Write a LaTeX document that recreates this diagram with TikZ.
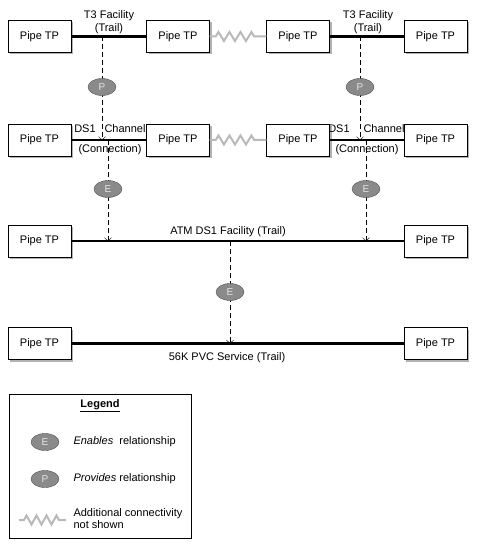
\documentclass[tikz,border=0pt]{standalone}
\usepackage{fontspec}
\setmainfont{Liberation Sans}
\usetikzlibrary{shapes.geometric,shadows,arrows.meta,decorations.pathmorphing}

\definecolor{tagfill}{RGB}{138,138,138}
\definecolor{tagline}{RGB}{80,80,80}
\definecolor{wave}{RGB}{185,185,185}

\tikzset{
 every node/.style={font=\fontsize{11}{12.5}\selectfont},
 pipe/.style={draw, fill=white, minimum width=63pt, minimum height=32pt, inner sep=0pt,
   drop shadow={shadow xshift=2pt, shadow yshift=-2pt, fill=gray!60, opacity=1}},
 trail/.style={line width=2.4pt},
 rel/.style={dash pattern=on 5pt off 3pt, -{Straight Barb[length=3pt,width=7pt]}},
 tag/.style={ellipse, draw=tagline, fill=tagfill, text=gray!20, inner sep=0pt,
   minimum width=28pt, minimum height=17pt, font=\fontsize{10}{11}\selectfont},
 more/.style={wave, line width=2pt, decorate,
   decoration={zigzag, segment length=11pt, amplitude=4.5pt, pre length=6pt, post length=7pt}}
}

\begin{document}
\begin{tikzpicture}[x=1pt, y=-1pt]
%\draw[help lines=.1] (0,0) grid (477,548);
\useasboundingbox (0,0) rectangle (477,548);

 % T3 facility row
 \node[pipe] (t1) at (39.5,36.5) {Pipe TP};
 \node[pipe] (t2) at (178,36.5) {Pipe TP};
 \node[pipe] (t3) at (298,36.5) {Pipe TP};
 \node[pipe] (t4) at (435.5,36.5) {Pipe TP};

 % DS1 channel row
 \node[pipe] (c1) at (39.5,140) {Pipe TP};
 \node[pipe] (c2) at (178,140) {Pipe TP};
 \node[pipe] (c3) at (298,140) {Pipe TP};
 \node[pipe] (c4) at (435.5,140) {Pipe TP};

 % ATM DS1 facility row
 \node[pipe] (f1) at (39.5,241) {Pipe TP};
 \node[pipe] (f2) at (435.5,241) {Pipe TP};

 % 56K PVC row
 \node[pipe] (s1) at (39.5,343.5) {Pipe TP};
 \node[pipe] (s2) at (435.5,343.5) {Pipe TP};

 \coordinate (tp1) at (102,36.5);
 \coordinate (cp1) at (102,140);
 \coordinate (tp2) at (360,36.5);
 \coordinate (cp2) at (360,140);
 \coordinate (ce1) at (108,140);
 \coordinate (fe1) at (108,241);
 \coordinate (ce2) at (366,140);
 \coordinate (fe2) at (366,241);
 \coordinate (fe3) at (230,241);
 \coordinate (se3) at (230,343.5);

 \draw[rel] (tp1) -- (cp1);
 \draw[rel] (tp2) -- (cp2);
 \draw[rel] (ce1) -- (fe1);
 \draw[rel] (ce2) -- (fe2);
 \draw[rel] (fe3) -- (se3);

 \draw[trail] (t1) -- (t2);
 \draw[trail] (t3) -- (t4);
 \draw[trail] (c1) -- (c2);
 \draw[trail] (c3) -- (c4);
 \draw[trail] (f1) -- (f2);
 \draw[trail] (s1) -- (s2);

 \draw[more] (t2) -- (t3);
 \draw[more] (c2) -- (c3);

 \node[tag] (p1) at (102,87) {P};
 \node[tag] (p2) at (360,87) {P};
 \node[tag] (e1) at (108,189) {E};
 \node[tag] (e2) at (366,189) {E};
 \node[tag] (e3) at (230,292) {E};

 \node[align=center] (t3lab1) at (109,22) {T3 Facility\\(Trail)};
 \node[align=center] (t3lab2) at (368,22) {T3 Facility\\(Trail)};
 \node (ds1a) at (85,129) {DS1};
 \node (cha) at (125,129) {Channel};
 \node (cona) at (110,149.5) {(Connection)};
 \node (ds1b) at (339,129) {DS1};
 \node (chb) at (384,129) {Channel};
 \node (conb) at (367,149.5) {(Connection)};
 \node (atm) at (228,232) {ATM DS1 Facility (Trail)};
 \node (pvc) at (227,358) {56K PVC Service (Trail)};

 % legend
 \draw (9,394) rectangle (191,538);
 \node (leg) at (100,406) {\textbf{\underline{Legend}}};
 \node[tag] (le) at (45,442) {E};
 \node[anchor=west] (let) at (70,442) {\textit{Enables}\ \ relationship};
 \node[tag] (lp) at (45,479) {P};
 \node[anchor=west] (lpt) at (70,479) {\textit{Provides} relationship};
 \coordinate (lw1) at (19,520);
 \coordinate (lw2) at (66,520);
 \draw[more, decoration={segment length=10pt, pre length=5pt, post length=6pt}] (lw1) -- (lw2);
 \node[anchor=west, align=left] (lwt) at (70,518.5) {Additional connectivity\\not shown};

\end{tikzpicture}
\end{document}
